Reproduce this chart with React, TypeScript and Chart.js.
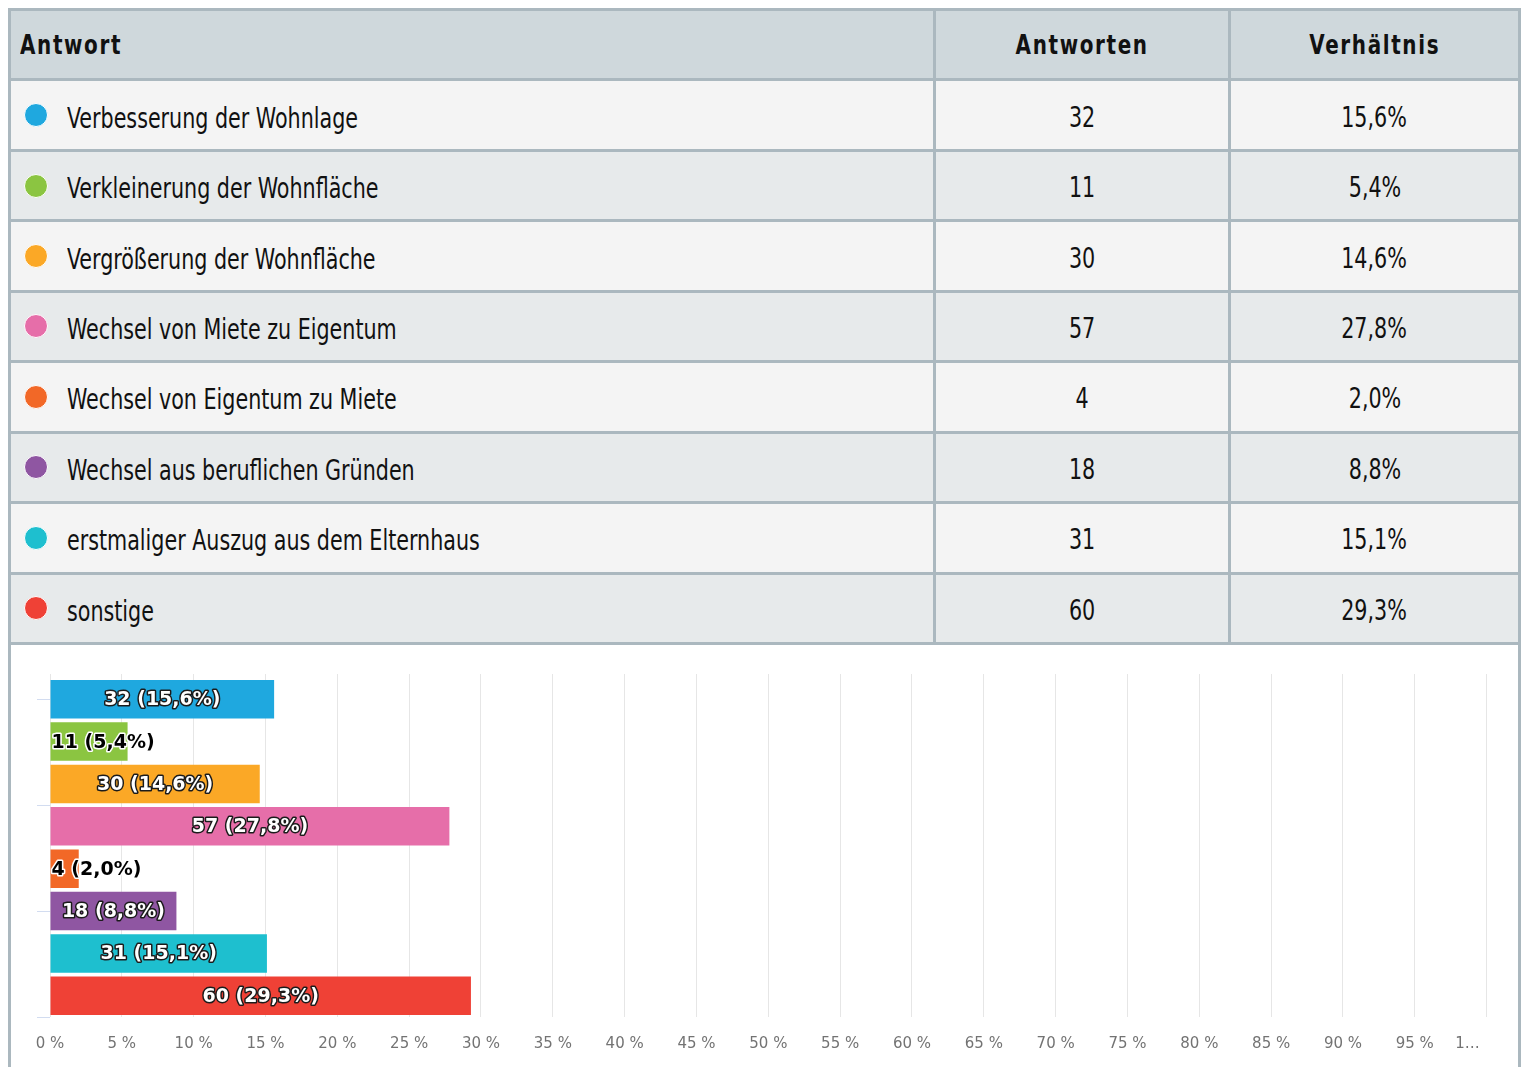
import React, { useEffect, useRef } from "react";
import { Chart, registerables } from "chart.js";

Chart.register(...registerables);

const answers = [
  "Verbesserung der Wohnlage",
  "Verkleinerung der Wohnfläche",
  "Vergrößerung der Wohnfläche",
  "Wechsel von Miete zu Eigentum",
  "Wechsel von Eigentum zu Miete",
  "Wechsel aus beruflichen Gründen",
  "erstmaliger Auszug aus dem Elternhaus",
  "sonstige",
];
const counts = [32, 11, 30, 57, 4, 18, 31, 60];
const percents = [15.6, 5.4, 14.6, 27.8, 2.0, 8.8, 15.1, 29.3];
const colors = [
  "#1fa8df",
  "#8bc541",
  "#fba826",
  "#e66ea9",
  "#f26827",
  "#8f56a2",
  "#1ebfcf",
  "#ef4136",
];
const headers = ["Antwort", "Antworten", "Verhältnis"];
const lastTickLabel = "1…";
const sideTicks = [0, 1, 2, 3];

const fmtPct = (v: number) => v.toFixed(1).replace(".", ",") + "%";

const BORDER = "#abb8bf";
const TABLE_FONT = '"DejaVu Sans Condensed", "DejaVu Sans", sans-serif';
const ROW_H = 70.44;
const SQUEEZE = 0.82;
const CANVAS_W = 1507;
const CANVAS_H = 422;

const labelPlugin = {
  id: "barLabels",
  afterDatasetsDraw(chart: any) {
    const ctx = chart.ctx as CanvasRenderingContext2D;
    const meta = chart.getDatasetMeta(0);
    ctx.save();
    ctx.font = 'bold 19px "DejaVu Sans"';
    ctx.textBaseline = "middle";
    ctx.lineJoin = "round";
    meta.data.forEach((bar: any, i: number) => {
      const text = `${counts[i]} (${fmtPct(percents[i])})`;
      const { x, y, base } = bar.getProps(["x", "y", "base"], true);
      const w = ctx.measureText(text).width;
      const barW = x - base;
      let tx: number;
      let fill: string;
      let stroke: string;
      if (w + 4 < barW) {
        ctx.textAlign = "center";
        tx = (x + base) / 2;
        fill = "#ffffff";
        stroke = "#1b1b1b";
      } else {
        ctx.textAlign = "left";
        tx = base + 1;
        fill = "#000000";
        stroke = "#ffffff";
      }
      ctx.lineWidth = 3;
      ctx.strokeStyle = stroke;
      ctx.strokeText(text, tx, y + 1);
      ctx.fillStyle = fill;
      ctx.fillText(text, tx, y + 1);
    });
    ctx.restore();
  },
};

function BarChart() {
  const ref = useRef<HTMLCanvasElement | null>(null);
  useEffect(() => {
    if (!ref.current) return;
    const chart = new Chart(ref.current, {
      type: "bar",
      data: {
        labels: answers,
        datasets: [
          {
            data: percents,
            backgroundColor: colors,
            borderWidth: 0,
            barPercentage: 0.91,
            categoryPercentage: 1,
          },
        ],
      },
      plugins: [labelPlugin],
      options: {
        indexAxis: "y",
        animation: false,
        responsive: false,
        devicePixelRatio: 1,
        layout: { padding: { top: 29, left: 26, right: 31, bottom: 14 } },
        plugins: {
          legend: { display: false },
          tooltip: { enabled: false },
        },
        scales: {
          x: {
            type: "linear",
            min: 0,
            max: 100,
            position: "bottom",
            border: { display: false },
            grid: {
              color: "#e6e6e6",
              lineWidth: 1,
              tickLength: 18,
              tickColor: "rgba(0,0,0,0)",
            },
            ticks: {
              stepSize: 5,
              padding: 0,
              color: "#737373",
              font: { family: '"DejaVu Sans"', size: 15 },
              maxRotation: 0,
              autoSkip: false,
              callback: (v: any) =>
                Number(v) === 100 ? lastTickLabel + "\u00a0".repeat(8) : `${v} %`,
            },
          },
          x2: {
            type: "linear",
            min: 0,
            max: 100,
            position: "top",
            offset: false,
            border: { display: false },
            grid: { color: "#e6e6e6", drawOnChartArea: false, tickLength: 4, offset: false },
            ticks: { display: false, stepSize: 5 },
          },
          y: {
            type: "category",
            display: false,
            offset: true,
          },
          y2: {
            type: "linear",
            position: "left",
            min: 0,
            max: 3.2,
            offset: false,
            border: { display: false },
            grid: {
              color: "#d2dcf0",
              drawOnChartArea: false,
              tickLength: 13,
              offset: false,
            },
            afterBuildTicks: (scale: any) => {
              scale.ticks = sideTicks.map((v) => ({ value: v }));
            },
            ticks: { display: false },
          },
        },
      },
    });
    return () => chart.destroy();
  }, []);
  return (
    <div style={{ width: CANVAS_W, height: CANVAS_H }}>
      <canvas
        ref={ref}
        width={CANVAS_W}
        height={CANVAS_H}
        style={{ display: "block", width: CANVAS_W, height: CANVAS_H }}
      />
    </div>
  );
}

function Txt({ children, origin, top }: { children: React.ReactNode; origin: string; top: number }) {
  return (
    <span
      style={{
        display: "inline-block",
        whiteSpace: "nowrap",
        position: "relative",
        top,
        transform: `scaleX(${SQUEEZE})`,
        transformOrigin: origin,
      }}
    >
      {children}
    </span>
  );
}

function Row({ cells, header, bg, color }: { cells: string[]; header?: boolean; bg: string; color?: string }) {
  const common: React.CSSProperties = {
    height: "100%",
    display: "flex",
    alignItems: "center",
    boxSizing: "border-box",
    color: "#111111",
    fontFamily: TABLE_FONT,
    fontSize: header ? 27 : 28,
    fontWeight: header ? 700 : 400,
    letterSpacing: header ? "2px" : "0px",
    overflow: "hidden",
  };
  return (
    <div
      style={{
        height: ROW_H,
        boxSizing: "border-box",
        borderBottom: `3px solid ${BORDER}`,
        background: bg,
        display: "flex",
      }}
    >
      <div
        style={{
          ...common,
          width: 925,
          borderRight: `3px solid ${BORDER}`,
          paddingLeft: header ? 9 : 13,
        }}
      >
        {!header && (
          <span
            style={{
              display: "inline-block",
              width: 22,
              height: 22,
              borderRadius: "50%",
              background: color,
              border: "1.5px solid #ffffff",
              marginRight: 19,
              flex: "none",
            }}
          />
        )}
        <Txt origin="left center" top={header ? 0 : 3}>{cells[0]}</Txt>
      </div>
      <div
        style={{
          ...common,
          width: 295,
          borderRight: `3px solid ${BORDER}`,
          justifyContent: "center",
        }}
      >
        <Txt origin="center center" top={header ? 0 : 2}>{cells[1]}</Txt>
      </div>
      <div style={{ ...common, width: 287, justifyContent: "center" }}>
        <Txt origin="center center" top={header ? 0 : 2}>{cells[2]}</Txt>
      </div>
    </div>
  );
}

export default function App() {
  useEffect(() => {
    document.documentElement.style.overflow = "hidden";
    document.body.style.margin = "8px 0 0 8px";
  }, []);
  return (
    <div
      style={{
        width: 1513,
        boxSizing: "border-box",
        borderTop: `3px solid ${BORDER}`,
        borderLeft: `3px solid ${BORDER}`,
        borderRight: `3px solid ${BORDER}`,
        background: "#ffffff",
      }}
    >
      <Row cells={headers} header bg="#cfd8dc" />
      {answers.map((a, i) => (
        <Row
          key={a}
          cells={[a, String(counts[i]), fmtPct(percents[i])]}
          bg={i % 2 === 0 ? "#f4f4f4" : "#e7eaeb"}
          color={colors[i]}
        />
      ))}
      <BarChart />
    </div>
  );
}
